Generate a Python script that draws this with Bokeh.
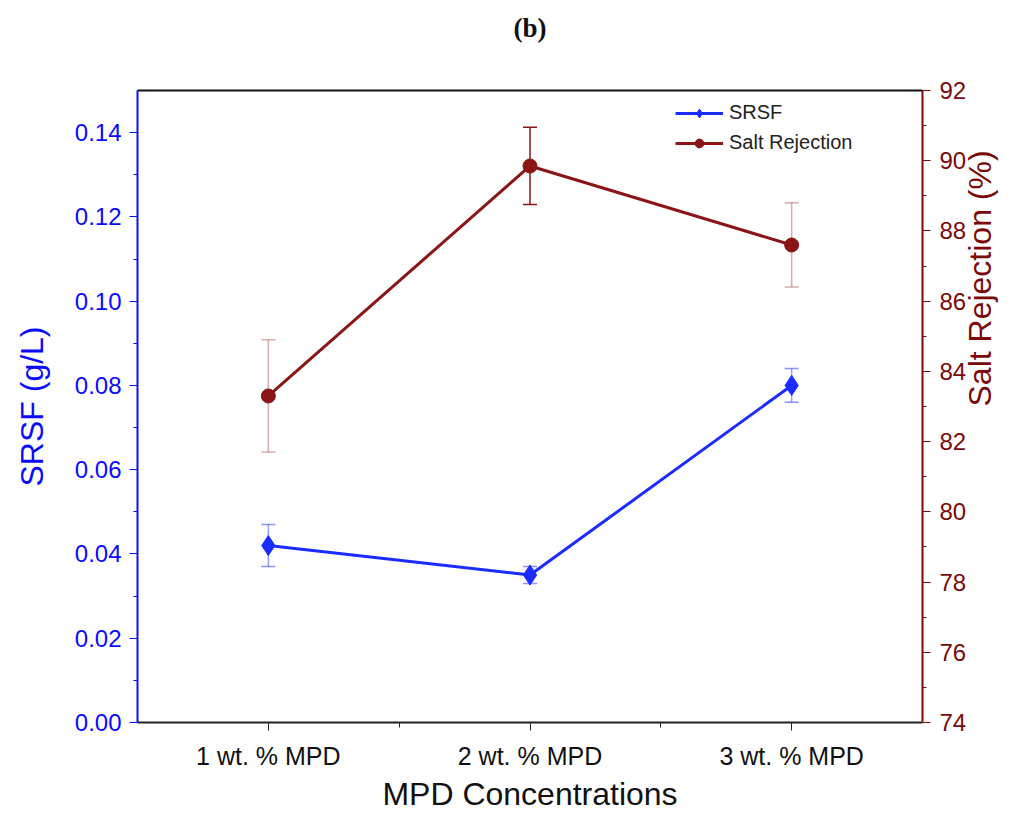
import math
from bokeh.plotting import figure
from bokeh.models import Range1d, LinearAxis, FixedTicker, Legend, LegendItem, NumeralTickFormatter
from bokeh.embed import file_html
from bokeh.resources import INLINE

categories = ["1 wt. % MPD", "2 wt. % MPD", "3 wt. % MPD"]
srsf = [0.042, 0.035, 0.080]
srsf_err = [0.005, 0.002, 0.004]
salt_rejection = [83.3, 89.85, 87.6]
salt_err = [1.6, 1.1, 1.2]
left_ticks = [0.00, 0.02, 0.04, 0.06, 0.08, 0.10, 0.12, 0.14]
right_ticks = [74, 76, 78, 80, 82, 84, 86, 88, 90, 92]
panel_title = "(b)"

BLUE = "#1a2cff"
AXBLUE = "#0a0aff"
RED = "#8b1414"
AXRED = "#7a0a0a"
FONT = "Liberation Sans"

xs = [i + 1 for i in range(len(categories))]

p = figure(width=1019, height=814, x_range=Range1d(0.5, 3.5), y_range=Range1d(0, 0.15),
           output_backend="svg", toolbar_location=None,
           min_border_left=137, min_border_right=97, min_border_top=90, min_border_bottom=92)
p.extra_y_ranges = {"sr": Range1d(74, 92)}
p.xgrid.visible = False
p.ygrid.visible = False
p.outline_line_color = None
p.background_fill_color = "white"
p.border_fill_color = "white"

# bottom axis
xa = p.xaxis[0]
xa.ticker = FixedTicker(ticks=xs, minor_ticks=[1.5, 2.5])
xa.major_label_overrides = {x: c for x, c in zip(xs, categories)}
xa.axis_label = "MPD Concentrations"
xa.axis_label_text_font = FONT
xa.axis_label_text_font_size = "32px"
xa.axis_label_text_font_style = "normal"
xa.axis_label_text_color = "#111111"
xa.axis_label_standoff = 3
xa.major_label_text_font = FONT
xa.major_label_text_font_size = "25px"
xa.major_label_text_color = "#111111"
xa.major_label_standoff = 11
xa.axis_line_color = "#222222"
xa.axis_line_width = 2
xa.major_tick_line_color = "#222222"
xa.minor_tick_line_color = "#222222"
xa.major_tick_out = 8
xa.major_tick_in = 0
xa.minor_tick_out = 5
xa.minor_tick_in = 0

# left axis
ya = p.yaxis[0]
ya.ticker = FixedTicker(ticks=left_ticks, minor_ticks=[0.01, 0.03, 0.05, 0.07, 0.09, 0.11, 0.13])
ya.formatter = NumeralTickFormatter(format="0.00")
ya.axis_label = "SRSF (g/L)"
ya.axis_label_text_font = FONT
ya.axis_label_text_font_size = "32px"
ya.axis_label_text_font_style = "normal"
ya.axis_label_text_color = AXBLUE
ya.axis_label_standoff = 22
ya.major_label_text_font = FONT
ya.major_label_text_font_size = "24px"
ya.major_label_text_color = AXBLUE
ya.major_label_standoff = 8
ya.axis_line_color = AXBLUE
ya.axis_line_width = 2
ya.major_tick_line_color = AXBLUE
ya.minor_tick_line_color = AXBLUE
ya.major_tick_out = 8
ya.major_tick_in = 0
ya.minor_tick_out = 4
ya.minor_tick_in = 0

# right axis
ra = LinearAxis(y_range_name="sr")
ra.ticker = FixedTicker(ticks=right_ticks, minor_ticks=[75, 77, 79, 81, 83, 85, 87, 89, 91])
ra.axis_label = "Salt Rejection (%)"
ra.axis_label_orientation = math.pi / 2
ra.axis_label_text_font = FONT
ra.axis_label_text_font_size = "32px"
ra.axis_label_text_font_style = "normal"
ra.axis_label_text_color = AXRED
ra.axis_label_standoff = 11
ra.major_label_text_font = FONT
ra.major_label_text_font_size = "24px"
ra.major_label_text_color = AXRED
ra.major_label_standoff = 9
ra.axis_line_color = AXRED
ra.axis_line_width = 2
ra.major_tick_line_color = AXRED
ra.minor_tick_line_color = AXRED
ra.major_tick_out = 8
ra.major_tick_in = 0
ra.minor_tick_out = 4
ra.minor_tick_in = 0
p.add_layout(ra, "right")

# top frame line, carrying the panel title "(b)"
ta = LinearAxis(ticker=FixedTicker(ticks=[]), major_label_text_font_size="0px",
                axis_line_color="#111111", axis_line_width=2,
                major_tick_line_color=None, minor_tick_line_color=None,
                axis_label=panel_title, axis_label_text_font="Liberation Serif",
                axis_label_text_font_style="bold", axis_label_text_font_size="27px",
                axis_label_text_color="#111111", axis_label_standoff=48)
p.add_layout(ta, "above")

# error bars
s_lo = [v - e for v, e in zip(srsf, srsf_err)]
s_hi = [v + e for v, e in zip(srsf, srsf_err)]
r_lo = [v - e for v, e in zip(salt_rejection, salt_err)]
r_hi = [v + e for v, e in zip(salt_rejection, salt_err)]
r_alpha = [0.35, 1.0, 0.35]

p.segment(x0=xs, y0=s_lo, x1=xs, y1=s_hi, line_color=BLUE, line_alpha=0.45, line_width=1.5)
p.scatter(x=xs + xs, y=s_lo + s_hi, marker="dash", size=14, line_color=BLUE, line_alpha=0.5, line_width=1.5)
p.segment(x0=xs, y0=r_lo, x1=xs, y1=r_hi, line_color=RED, line_alpha=r_alpha, line_width=1.5, y_range_name="sr")
p.scatter(x=xs + xs, y=r_lo + r_hi, marker="dash", size=14, line_color=RED, line_alpha=r_alpha + r_alpha,
          line_width=1.5, y_range_name="sr")

l1 = p.line(xs, srsf, line_color=BLUE, line_width=3)
m1 = p.scatter(xs, srsf, marker="diamond", size=20, fill_color=BLUE, line_color=BLUE)
l2 = p.line(xs, salt_rejection, line_color=RED, line_width=3, y_range_name="sr")
m2 = p.scatter(xs, salt_rejection, marker="circle", size=14, fill_color=RED, line_color=RED, y_range_name="sr")

legend = Legend(items=[LegendItem(label="SRSF", renderers=[l1, m1]),
                       LegendItem(label="Salt Rejection", renderers=[l2, m2])],
                location=(538, 568), border_line_color=None, background_fill_alpha=0,
                label_text_font=FONT, label_text_font_size="20px", label_text_color="#222222",
                glyph_width=48, glyph_height=22, label_height=22, label_standoff=6,
                spacing=7, padding=4, margin=0)
p.add_layout(legend)

open("out.html", "w").write(file_html(p, INLINE))
